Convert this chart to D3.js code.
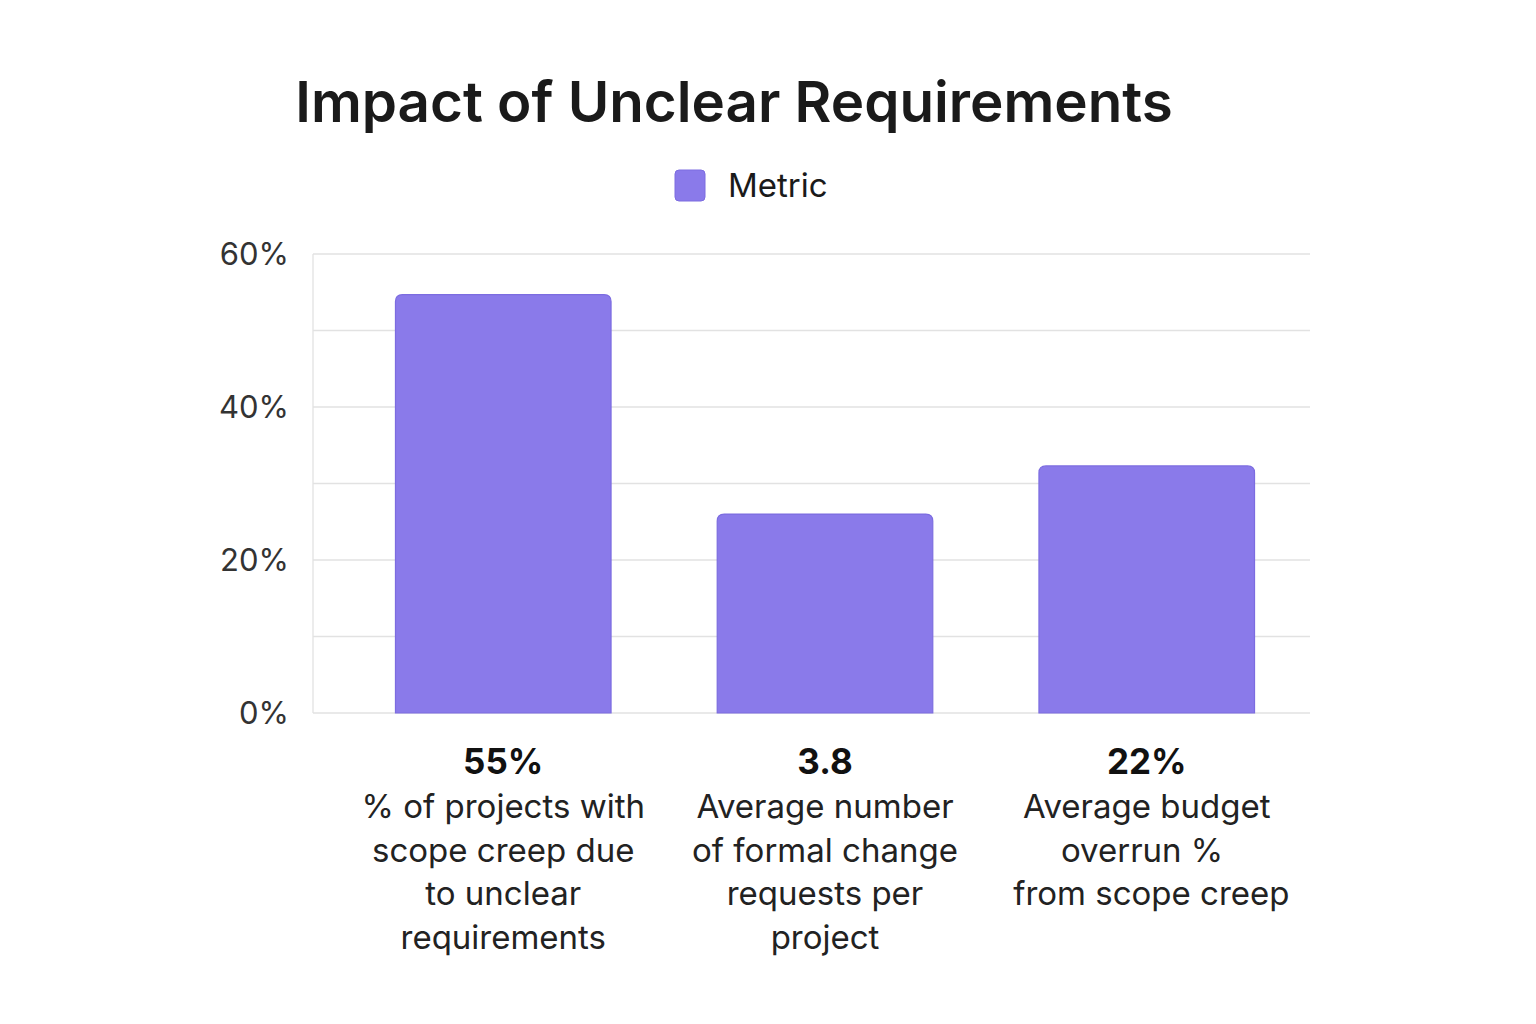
<!DOCTYPE html>
<html><head><meta charset="utf-8">
<script src="https://cdn.jsdelivr.net/npm/d3@7"></script>
<style>body{margin:0;background:#fff;} svg{display:block;font-family:Inter, "Noto Sans", sans-serif;}</style>
</head><body>
<svg id="c" width="1536" height="1024"></svg>
<script>
const categories = ["c1","c2","c3"];
const values = [54.7, 26.0, 32.3];
const valueLabels = ["55%","3.8","22%"];
const categoryLines = [
  ["% of projects with","scope creep due","to unclear","requirements"],
  ["Average number","of formal change","requests per","project"],
  ["Average budget","overrun % "," from scope creep"]
];
const gridTicks = [0,10,20,30,40,50,60];
const labelTicks = [0,20,40,60];
const seriesName = "Metric";
const title = "Impact of Unclear Requirements";

const svg = d3.select("#c");
const x = d3.scaleBand().domain(categories).range([344,1306]).paddingInner(0.33).paddingOuter(0.16);
const y = d3.scaleLinear().domain([0,60]).range([713,254]);

svg.append("text").attr("x",734).attr("y",122).attr("text-anchor","middle")
  .attr("font-size",56.5).attr("font-weight",600).attr("fill","#1a1a1a").text(title);

// legend
svg.append("rect").attr("x",675).attr("y",170).attr("width",30).attr("height",31).attr("rx",4)
  .attr("fill","#8a7aea").attr("stroke","#7c6ce0").attr("stroke-width",1);
svg.append("text").attr("x",728).attr("y",197).attr("font-size",33).attr("fill","#1a1a1a").text(seriesName);

// grid
svg.append("g").selectAll("line").data(gridTicks).join("line")
  .attr("x1",313).attr("x2",1310).attr("y1",d=>y(d)).attr("y2",d=>y(d))
  .attr("stroke","#e2e2e2").attr("stroke-width",1.3);
svg.append("line").attr("x1",313).attr("x2",313).attr("y1",y(60)).attr("y2",y(0))
  .attr("stroke","#e2e2e2").attr("stroke-width",1.3);

svg.append("g").selectAll("text").data(labelTicks).join("text")
  .attr("x",289).attr("y",d=>y(d)+11).attr("text-anchor","end")
  .attr("font-size",31).attr("fill","#333").text(d=>d+"%");

// bars with rounded top corners
const r = 7;
function barPath(x0,w,yt,yb){
  return `M${x0},${yb}V${yt+r}Q${x0},${yt} ${x0+r},${yt}H${x0+w-r}Q${x0+w},${yt} ${x0+w},${yt+r}V${yb}Z`;
}
svg.append("g").selectAll("path").data(categories).join("path")
  .attr("d",(d,i)=>barPath(x(d),x.bandwidth(),y(values[i]),y(0)))
  .attr("fill","#8a7aea").attr("stroke","#7c6ce0").attr("stroke-width",1.2);

// value labels
svg.append("g").selectAll("text").data(categories).join("text")
  .attr("x",d=>x(d)+x.bandwidth()/2).attr("y",774).attr("text-anchor","middle")
  .attr("font-size",35).attr("font-weight",700).attr("fill","#111").text((d,i)=>valueLabels[i]);

// category labels
categories.forEach((c,i)=>{
  const t = svg.append("text").attr("text-anchor","middle").attr("font-size",33).attr("fill","#222")
    .style("white-space","pre");
  categoryLines[i].forEach((ln,j)=>{
    t.append("tspan").attr("x",x(c)+x.bandwidth()/2).attr("y",818+j*43.7).text(ln);
  });
});
</script>
</body></html>
